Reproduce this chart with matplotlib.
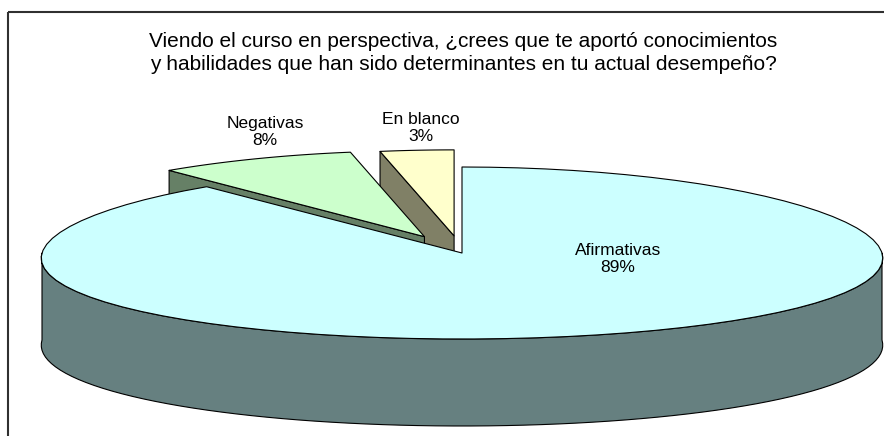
import numpy as np
import matplotlib.pyplot as plt
from matplotlib.patches import Polygon, Rectangle

plt.rcParams['font.family'] = ['Liberation Sans', 'DejaVu Sans']

# Datos de la encuesta
titulo = ("Viendo el curso en perspectiva, ¿crees que te aportó conocimientos\n"
          "y habilidades que han sido determinantes en tu actual desempeño?")
categorias = ["Afirmativas", "Negativas", "En blanco"]
porcentajes = [89, 8, 3]
separacion = [0.0, 0.21, 0.2]
colores_sup = ["#CCFFFF", "#CCFFCC", "#FFFFCC"]
colores_lado = ["#668080", "#668066", "#808066"]
pos_etiquetas = [(618, 259), (265, 132), (421, 128)]

# geometria del pastel 3D (en pixeles)
cx, cy = 462, 253
rx, ry = 420, 86
alto = 87
persp = 0.06  # el lado lejano se ve un poco mas angosto

fig = plt.figure(figsize=(8.84, 4.36), dpi=100)
ax = fig.add_axes([0, 0, 1, 1])
ax.set_xlim(0, 884)
ax.set_ylim(436, 0)
ax.axis('off')

# marco del grafico
ax.add_patch(Rectangle((8, 12), 1000, 1000, fill=False, ec='#303030', lw=1.5))


def arco(a1, a2, dx, dy, z=0, n=80):
    a = np.radians(np.linspace(a1, a2, n))
    x = cx + dx + rx * np.sin(a) * (1 - persp * np.cos(a))
    y = cy + dy - ry * np.cos(a) + z
    return np.column_stack([x, y])


total = sum(porcentajes)
angulos = np.cumsum([0] + porcentajes) / total * 360

# se dibujan de atras hacia adelante
for i in reversed(range(len(porcentajes))):
    a1, a2 = angulos[i], angulos[i + 1]
    medio = np.radians((a1 + a2) / 2)
    dx = separacion[i] * rx * np.sin(medio)
    dy = -separacion[i] * ry * np.cos(medio)
    c = np.array([cx + dx, cy + dy])
    estilo = dict(ec='black', lw=0.8, joinstyle='round')

    # pared exterior visible (mitad delantera)
    w1, w2 = max(a1, 90), min(a2, 270)
    if w2 > w1:
        sup = arco(w1, w2, dx, dy)
        inf = arco(w1, w2, dx, dy, alto)[::-1]
        ax.add_patch(Polygon(np.vstack([sup, inf]), fc=colores_lado[i], **estilo))

    # caras de corte
    for ang, visible in [(a1, np.sin(np.radians(a1)) < -1e-9),
                         (a2, np.sin(np.radians(a2)) > 1e-9)]:
        if visible:
            p = arco(ang, ang, dx, dy, n=1)[0]
            cara = [c, p, p + [0, alto], c + [0, alto]]
            ax.add_patch(Polygon(cara, fc=colores_lado[i], **estilo))

    # cara superior
    sup = np.vstack([c, arco(a1, a2, dx, dy)])
    ax.add_patch(Polygon(sup, fc=colores_sup[i], **estilo))

for nombre, pct, (x, y) in zip(categorias, porcentajes, pos_etiquetas):
    ax.text(x, y, f"{nombre}\n{pct}%", ha='center', va='center', fontsize=12.5,
            linespacing=1.15, zorder=10)

ax.text(463, 53, titulo, ha='center', va='center', fontsize=15, linespacing=1.25)

fig.savefig("out.png", dpi=100)
